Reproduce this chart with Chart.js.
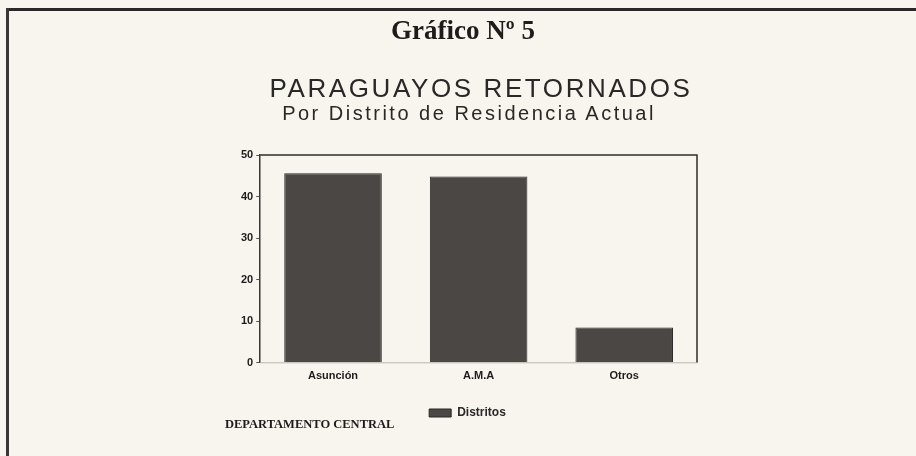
<!DOCTYPE html>
<html>
<head>
<meta charset="utf-8">
<script src="https://cdn.jsdelivr.net/npm/chart.js@4/dist/chart.umd.min.js"></script>
<style>
  html, body { margin:0; padding:0; }
  body { width:916px; height:456px; background:#f7f5ee; position:relative; overflow:hidden; }
  #wrap { position:absolute; left:0; top:0; width:916px; height:456px; }
  .t { position:absolute; white-space:nowrap; line-height:1; color:#1e1c1b; transform:translateX(-50%); }
  #g { font-family:"Liberation Serif", serif; font-weight:bold; font-size:27px; left:463px; top:17px; }
  #h1 { font-family:"Liberation Sans", Arial, sans-serif; font-size:26px; letter-spacing:2.6px; left:481px; top:75px; color:#2a2827; }
  #h2 { font-family:"Liberation Sans", Arial, sans-serif; font-size:20px; letter-spacing:2.5px; left:469px; top:103px; color:#2a2827; }
  #dep { font-family:"Liberation Serif", serif; font-weight:bold; font-size:12.5px; left:225px; top:418px; transform:none; }
  #bt { position:absolute; left:6px; top:8px; width:910px; height:3px; background:#2b2928; }
  #bl { position:absolute; left:6px; top:8px; width:3px; height:448px; background:#3a3837; }
</style>
</head>
<body>
<div id="wrap"><canvas id="c" width="916" height="456"></canvas></div>
<div id="bt"></div>
<div id="bl"></div>
<div class="t" id="g">Gráfico Nº 5</div>
<div class="t" id="h1">PARAGUAYOS RETORNADOS</div>
<div class="t" id="h2">Por Distrito de Residencia Actual</div>
<div class="t" id="dep">DEPARTAMENTO CENTRAL</div>
<script>
const categories = ["Asunción", "A.M.A", "Otros"];
const seriesName = "Distritos";
const values = [45.6, 44.8, 8.5];
const yTicks = [0, 10, 20, 30, 40, 50];

const framePlugin = {
  id: 'frame',
  afterDatasetsDraw(chart) {
    const a = chart.chartArea, ctx = chart.ctx;
    ctx.save();
    ctx.lineWidth = 1.5;
    ctx.strokeStyle = '#2e2c2b';
    ctx.beginPath();
    ctx.moveTo(a.left, a.top); ctx.lineTo(a.right, a.top); ctx.lineTo(a.right, a.bottom);
    ctx.stroke();
    ctx.lineWidth = 1;
    ctx.strokeStyle = '#b8b5ae';
    ctx.beginPath();
    ctx.moveTo(a.left, a.bottom); ctx.lineTo(a.right, a.bottom);
    ctx.stroke();
    ctx.restore();
  }
};

new Chart(document.getElementById('c'), {
  type: 'bar',
  data: {
    labels: categories,
    datasets: [{
      label: seriesName,
      data: values,
      backgroundColor: '#4b4745',
      borderColor: '#2a2625',
      borderWidth: 1,
      barPercentage: 0.67,
      categoryPercentage: 1.0
    }]
  },
  options: {
    responsive: false,
    animation: false,
    layout: { padding: { left: 238, right: 219, top: 155, bottom: 27 } },
    plugins: {
      tooltip: { enabled: false },
      title: { display: false },
      legend: {
        display: true,
        position: 'bottom',
        labels: {
          boxWidth: 22, boxHeight: 8, padding: 17,
          color: '#2a2827',
          font: { family: '"Liberation Sans", Arial, sans-serif', size: 12, weight: 'bold' }
        }
      }
    },
    scales: {
      x: {
        grid: { display: false, drawTicks: false },
        border: { display: false },
        ticks: {
          padding: 7, color: '#1e1c1b',
          font: { family: '"Liberation Sans", Arial, sans-serif', size: 11, weight: 'bold' }
        }
      },
      y: {
        min: 0, max: 50,
        afterBuildTicks(axis) { axis.ticks = yTicks.map(v => ({ value: v })); },
        grid: { drawOnChartArea: false, tickLength: 4, color: '#555' },
        border: { display: true, color: '#3a3837', width: 1.5 },
        ticks: {
          padding: 3, color: '#1e1c1b',
          font: { family: '"Liberation Sans", Arial, sans-serif', size: 11, weight: 'bold' }
        }
      }
    }
  },
  plugins: [framePlugin]
});
</script>
</body>
</html>
